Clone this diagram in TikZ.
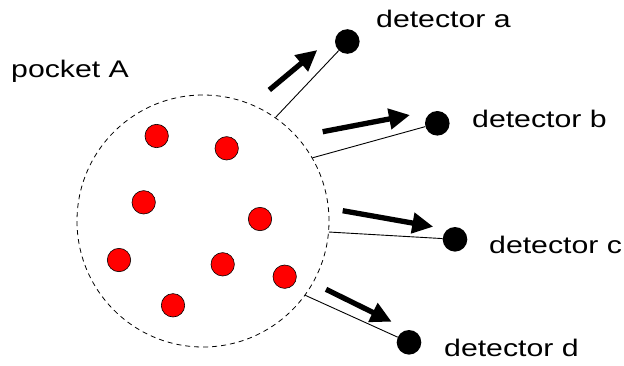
\documentclass[tikz,border=0pt]{standalone}
\usepackage{fontspec}
\setmainfont{Liberation Sans}
\usetikzlibrary{arrows.meta}
\newcommand\widetxt[1]{\scalebox{1.26}[1]{#1}}
\begin{document}
\begin{tikzpicture}[x=1pt,y=-1pt,
  reddot/.style={circle,draw=black,line width=0.6pt,fill=red,minimum size=23.4pt,inner sep=0pt},
  detdot/.style={circle,fill=black,minimum size=24.6pt,inner sep=0pt},
  lbl/.style={anchor=base west,inner sep=0pt,font=\fontsize{24}{28}\selectfont},
  pocketshape/.style={circle,draw=black,line width=0.8pt,dash pattern=on 5pt off 4pt,minimum size=252pt,inner sep=0pt},
  conn/.style={draw=black,line width=0.9pt},
  bigarrow/.style={draw=black,line width=5.3pt,-{Triangle[length=21pt,width=20pt]}}
]
\useasboundingbox (0,0) rectangle (624,365);

\node[pocketshape] (pocket) at (203,221) {};

\node[reddot] (r1) at (156.7,136) {};
\node[reddot] (r2) at (226.7,148.3) {};
\node[reddot] (r3) at (143.7,202.3) {};
\node[reddot] (r4) at (260,219) {};
\node[reddot] (r5) at (119,260) {};
\node[reddot] (r6) at (222.7,264.3) {};
\node[reddot] (r7) at (284.7,276.7) {};
\node[reddot] (r8) at (173,305.3) {};

\node[detdot] (da) at (347.3,41.5) {};
\node[detdot] (db) at (437.3,123.3) {};
\node[detdot] (dc) at (455,239.3) {};
\node[detdot] (dd) at (409,342.3) {};

\draw[conn] (pocket.55) -- (da);
\draw[conn] (pocket.30) -- (db);
\draw[conn] (pocket.-5) -- (dc);
\draw[conn] (pocket.-36) -- (dd);

\coordinate (a1) at (269.3,90);   \coordinate (a2) at (317.3,50);
\coordinate (b1) at (322.7,131.7); \coordinate (b2) at (410,115);
\coordinate (c1) at (342.7,210.7); \coordinate (c2) at (433.3,226.7);
\coordinate (d1) at (326,289.3);   \coordinate (d2) at (391.7,321.7);
\draw[bigarrow] (a1) -- (a2);
\draw[bigarrow] (b1) -- (b2);
\draw[bigarrow] (c1) -- (c2);
\draw[bigarrow] (d1) -- (d2);

\node[lbl] (la) at (376,27.3) {\widetxt{detector a}};
\node[lbl] (lb) at (472,127.3) {\widetxt{detector b}};
\node[lbl] (lc) at (489,253) {\widetxt{detector c}};
\node[lbl] (ld) at (444,356.7) {\widetxt{detector d}};
\node[lbl] (lp) at (11,77) {\widetxt{pocket A}};
\end{tikzpicture}
\end{document}
